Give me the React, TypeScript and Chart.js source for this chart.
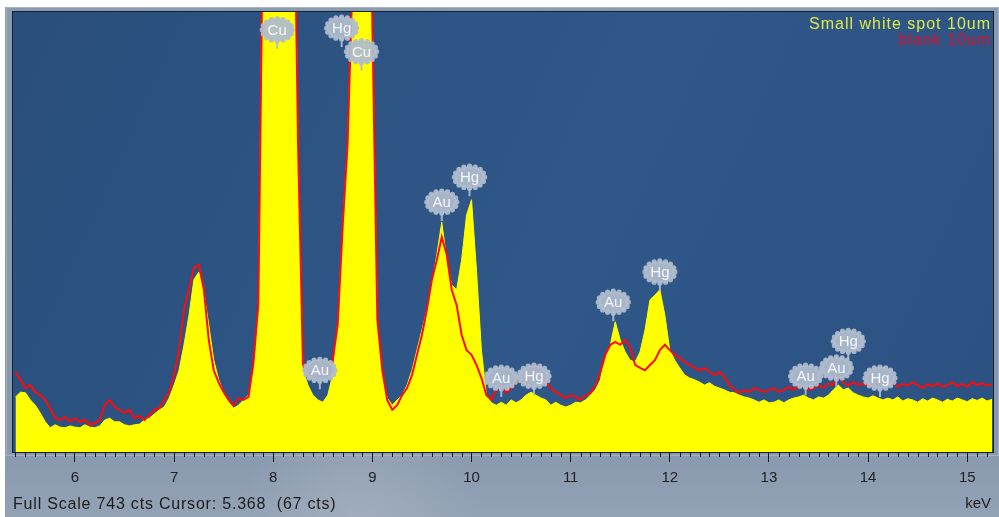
import { useEffect, useRef } from "react";
import { Chart, registerables } from "chart.js";

Chart.register(...registerables);

// Energy channels (keV)
const energies = [
  5.40, 5.45, 5.50, 5.55, 5.60, 5.65, 5.70, 5.75, 5.80, 5.85, 5.90, 5.95,
  6.00, 6.05, 6.10, 6.15, 6.20, 6.25, 6.30, 6.35, 6.40, 6.45, 6.50, 6.55,
  6.60, 6.65, 6.70, 6.75, 6.80, 6.85, 6.90, 6.95, 7.00, 7.05, 7.10, 7.15,
  7.20, 7.25, 7.30, 7.35, 7.40, 7.45, 7.50, 7.55, 7.60, 7.65, 7.70, 7.75,
  7.80, 7.85, 7.90, 7.95, 8.00, 8.05, 8.10, 8.15, 8.20, 8.25, 8.30, 8.35,
  8.40, 8.45, 8.50, 8.55, 8.60, 8.65, 8.70, 8.75, 8.80, 8.85, 8.90, 8.95,
  9.00, 9.05, 9.10, 9.15, 9.20, 9.25, 9.30, 9.35, 9.40, 9.45, 9.50, 9.55,
  9.60, 9.65, 9.70, 9.75, 9.80, 9.85, 9.90, 9.95, 10.00, 10.05, 10.10, 10.15,
  10.20, 10.25, 10.30, 10.35, 10.40, 10.45, 10.50, 10.55, 10.60, 10.65, 10.70, 10.75,
  10.80, 10.85, 10.90, 10.95, 11.00, 11.05, 11.10, 11.15, 11.20, 11.25, 11.30, 11.35,
  11.40, 11.45, 11.50, 11.55, 11.60, 11.65, 11.70, 11.75, 11.80, 11.85, 11.90, 11.95,
  12.00, 12.05, 12.10, 12.15, 12.20, 12.25, 12.30, 12.35, 12.40, 12.45, 12.50, 12.55,
  12.60, 12.65, 12.70, 12.75, 12.80, 12.85, 12.90, 12.95, 13.00, 13.05, 13.10, 13.15,
  13.20, 13.25, 13.30, 13.35, 13.40, 13.45, 13.50, 13.55, 13.60, 13.65, 13.70, 13.75,
  13.80, 13.85, 13.90, 13.95, 14.00, 14.05, 14.10, 14.15, 14.20, 14.25, 14.30, 14.35,
  14.40, 14.45, 14.50, 14.55, 14.60, 14.65, 14.70, 14.75, 14.80, 14.85, 14.90, 14.95,
  15.00, 15.05, 15.10, 15.15, 15.20, 15.25,
];

// "Small white spot 10um" counts (yellow, filled)
const whiteSpotCounts = [
  93, 101, 100, 88, 79, 66, 51, 41, 46, 42, 41, 44,
  42, 41, 46, 42, 41, 44, 54, 57, 51, 51, 46, 44,
  46, 47, 54, 57, 64, 71, 76, 91, 113, 138, 181, 231,
  291, 304, 270, 214, 155, 122, 100, 84, 74, 79, 88, 96,
  138, 240, 950, 2500, 3500, 3800, 3500, 2500, 1100, 520, 138, 113,
  96, 88, 84, 96, 130, 215, 380, 520, 800, 1400, 1600, 1300,
  720, 223, 130, 91, 79, 88, 96, 113, 138, 172, 206, 240,
  282, 333, 388, 324, 282, 274, 324, 400, 426, 307, 172, 96,
  83, 79, 84, 79, 88, 83, 88, 96, 101, 96, 91, 88,
  79, 84, 79, 76, 79, 84, 83, 88, 96, 105, 122, 164,
  181, 220, 189, 169, 155, 152, 169, 206, 257, 265, 274, 231,
  172, 155, 142, 130, 125, 122, 118, 113, 117, 111, 108, 105,
  101, 100, 96, 93, 91, 88, 84, 88, 83, 84, 88, 83,
  88, 91, 93, 96, 91, 88, 93, 91, 96, 105, 113, 105,
  108, 100, 96, 93, 91, 95, 91, 88, 91, 88, 93, 86,
  90, 88, 84, 90, 86, 91, 88, 84, 89, 86, 91, 88,
  85, 90, 87, 91, 86, 89,
];

// "blank 10um" counts (red line)
const blankCounts = [
  135, 122, 108, 113, 101, 96, 88, 74, 57, 54, 59, 51,
  57, 51, 54, 46, 49, 54, 79, 88, 76, 71, 66, 71,
  57, 61, 54, 62, 71, 74, 88, 101, 130, 172, 240, 274,
  311, 316, 274, 189, 138, 117, 101, 88, 79, 91, 88, 93,
  150, 250, 950, 2500, 3500, 3800, 3500, 2500, 1100, 520, 147, 135,
  125, 135, 142, 130, 155, 215, 380, 520, 800, 1400, 1600, 1300,
  720, 223, 138, 88, 71, 79, 96, 108, 130, 164, 198, 240,
  291, 324, 363, 333, 274, 248, 198, 172, 164, 147, 125, 96,
  88, 105, 113, 100, 108, 117, 122, 113, 135, 147, 130, 118,
  108, 101, 96, 91, 96, 93, 88, 96, 100, 113, 135, 164,
  181, 186, 181, 189, 176, 147, 142, 138, 147, 155, 172, 181,
  172, 164, 159, 152, 147, 142, 138, 142, 135, 130, 135, 127,
  113, 105, 100, 105, 101, 108, 105, 101, 105, 108, 101, 105,
  110, 105, 113, 110, 105, 108, 113, 108, 116, 113, 135, 116,
  113, 118, 113, 116, 111, 115, 122, 116, 113, 118, 110, 115,
  112, 118, 113, 108, 115, 111, 116, 110, 113, 118, 111, 115,
  110, 118, 113, 116, 112, 115,
];

// x-axis tick labels (keV)
const majorTicks = [6, 7, 8, 9, 10, 11, 12, 13, 14, 15];

// Peak identification labels
const peakNames = ["Cu", "Hg", "Cu", "Au", "Au", "Hg", "Au", "Hg", "Au", "Hg", "Au", "Au", "Hg", "Hg"];
const peakEnergies = [8.04, 8.69, 8.89, 8.47, 9.70, 9.98, 10.30, 10.63, 11.43, 11.90, 13.37, 13.68, 13.80, 14.12];
const peakLabelCounts = [713, 716, 676, 138, 422, 464, 125, 128, 253, 304, 128, 142, 187, 125];

const seriesNames = ["Small white spot 10um", "blank 10um"];
const fullScale = 743;
const xMin = 5.375;
const xMax = 15.26;

const FONT = '"Liberation Sans", Arial, sans-serif';

const backgroundPlugin = {
  id: "bgPlugin",
  beforeDraw(chart: any) {
    const { ctx, chartArea: a, width, height } = chart;
    ctx.save();
    ctx.fillStyle = "#ffffff";
    ctx.fillRect(0, 0, width, height);
    const g = ctx.createLinearGradient(0, 0, 0, height);
    g.addColorStop(0, "#8a9aaf");
    g.addColorStop(0.85, "#8797ac");
    g.addColorStop(1, "#93a2b5");
    ctx.fillStyle = g;
    ctx.fillRect(5, 7, width - 5, height - 7);
    const c1 = ctx.createRadialGradient(360, 520, 5, 360, 520, 120);
    c1.addColorStop(0, "rgba(170,180,195,0.6)");
    c1.addColorStop(1, "rgba(170,180,195,0)");
    ctx.fillStyle = c1;
    ctx.fillRect(0, 450, width, 67);
    ctx.strokeStyle = "#a5b2c3";
    ctx.lineWidth = 1;
    ctx.strokeRect(a.left - 6.5, a.top - 4.5, a.right - a.left + 12, a.bottom - a.top + 8);
    const pg = ctx.createLinearGradient(a.left, a.top, a.right, a.bottom);
    pg.addColorStop(0, "#2a4f7d");
    pg.addColorStop(0.55, "#2f5787");
    pg.addColorStop(1, "#2b5282");
    ctx.fillStyle = pg;
    ctx.fillRect(a.left, a.top, a.right - a.left, a.bottom - a.top);
    ctx.restore();
  },
};

function drawBubble(ctx: CanvasRenderingContext2D, cx: number, cy: number, text: string) {
  ctx.save();
  ctx.fillStyle = "rgba(176,188,206,0.93)";
  ctx.fillRect(cx - 1, cy + 11, 2, 8);
  ctx.beginPath();
  ctx.ellipse(cx, cy, 15, 11, 0, 0, Math.PI * 2);
  ctx.fill();
  const n = 16;
  for (let k = 0; k < n; k++) {
    const t = (k / n) * Math.PI * 2;
    ctx.beginPath();
    ctx.arc(cx + 15 * Math.cos(t), cy + 11 * Math.sin(t), 2.6, 0, Math.PI * 2);
    ctx.fill();
  }
  ctx.fillStyle = "#f3f6fa";
  ctx.font = `15px ${FONT}`;
  ctx.textAlign = "center";
  ctx.textBaseline = "middle";
  ctx.fillText(text, cx, cy + 1);
  ctx.restore();
}

const overlayPlugin = {
  id: "overlayPlugin",
  afterDraw(chart: any) {
    const { ctx, chartArea: a, width } = chart;
    const xs = chart.scales.x;
    const ys = chart.scales.y;
    ctx.save();
    ctx.strokeStyle = "#14202e";
    ctx.lineWidth = 1;
    ctx.strokeRect(a.left - 0.5, a.top - 0.5, a.right - a.left + 1, a.bottom - a.top + 1);
    ctx.strokeStyle = "#1a1a1a";
    ctx.beginPath();
    for (let i = Math.ceil(xMin * 10); i <= Math.floor(xMax * 10); i++) {
      if (i % 10 === 0) continue;
      const px = Math.round(xs.getPixelForValue(i / 10)) + 0.5;
      ctx.moveTo(px, a.bottom);
      ctx.lineTo(px, a.bottom + 5);
    }
    ctx.stroke();
    for (let i = 0; i < peakNames.length; i++) {
      drawBubble(ctx, xs.getPixelForValue(peakEnergies[i]), ys.getPixelForValue(peakLabelCounts[i]), peakNames[i]);
    }
    ctx.font = `16px ${FONT}`;
    (ctx as any).letterSpacing = "1px";
    ctx.textAlign = "right";
    ctx.textBaseline = "alphabetic";
    ctx.fillStyle = "#dfe84a";
    ctx.fillText(seriesNames[0], a.right - 2, 29);
    ctx.fillStyle = "#d8122c";
    ctx.fillText(seriesNames[1], a.right - 2, 45);
    ctx.fillStyle = "#1c1c1c";
    ctx.font = `16px ${FONT}`;
    (ctx as any).letterSpacing = "0.8px";
    ctx.textAlign = "left";
    ctx.fillText(`Full Scale ${fullScale} cts Cursor: 5.368  (67 cts)`, a.left, 509);
    (ctx as any).letterSpacing = "0px";
    ctx.font = `15px ${FONT}`;
    ctx.textAlign = "right";
    ctx.fillText("keV", width - 8, 508);
    ctx.restore();
  },
};

export default function App() {
  const canvasRef = useRef<HTMLCanvasElement | null>(null);

  useEffect(() => {
    const canvas = canvasRef.current;
    if (!canvas) return;
    const chart = new Chart(canvas, {
      type: "line",
      data: {
        datasets: [
          {
            label: seriesNames[0],
            data: energies.map((e, i) => ({ x: e, y: whiteSpotCounts[i] })),
            borderColor: "#ffff00",
            backgroundColor: "#ffff00",
            borderWidth: 1,
            fill: "origin",
            pointRadius: 0,
            tension: 0,
            order: 2,
          },
          {
            label: seriesNames[1],
            data: energies.map((e, i) => ({ x: e, y: blankCounts[i] })),
            borderColor: "#ff0a0a",
            borderWidth: 2,
            fill: false,
            pointRadius: 0,
            tension: 0,
            order: 1,
          },
        ],
      },
      options: {
        responsive: false,
        animation: false,
        events: [],
        layout: { padding: { left: 13, right: 6, top: 12, bottom: 0 } },
        plugins: { legend: { display: false }, tooltip: { enabled: false } },
        scales: {
          x: {
            type: "linear",
            min: xMin,
            max: xMax,
            afterBuildTicks: (s: any) => {
              s.ticks = majorTicks.map((v) => ({ value: v }));
            },
            afterFit: (s: any) => {
              s.height = 65;
            },
            grid: { drawOnChartArea: false, drawTicks: true, tickLength: 10, color: "#1a1a1a", lineWidth: 1 },
            border: { display: true, color: "#111111" },
            ticks: {
              color: "#222222",
              font: { family: FONT, size: 15 },
              padding: 7,
              maxRotation: 0,
              autoSkip: false,
              callback: (v: any) => String(v),
            },
          },
          y: { display: false, min: 0, max: fullScale },
        },
      },
      plugins: [backgroundPlugin, overlayPlugin],
    });
    return () => chart.destroy();
  }, []);

  return (
    <div style={{ position: "fixed", left: 0, top: 0, width: 999, height: 517 }}>
      <canvas ref={canvasRef} width={999} height={517} style={{ display: "block" }} />
    </div>
  );
}
